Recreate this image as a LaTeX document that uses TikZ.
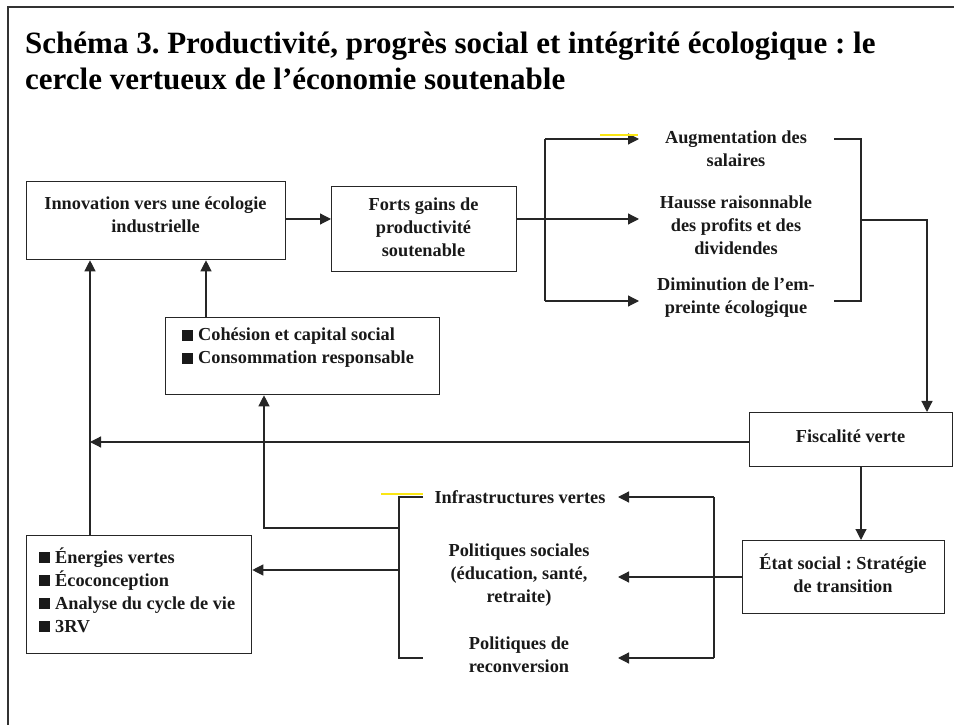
\documentclass[tikz,border=0pt]{standalone}
\usepackage{fontspec}
\setmainfont{Liberation Serif}
\usetikzlibrary{arrows.meta}
\frenchspacing
\newcommand{\sqb}{\rule{11pt}{11pt}\hspace{5pt}}
\tikzset{
  box/.style={draw=black!85, line width=1.3pt, inner sep=0pt, anchor=north west},
  txt/.style={font=\bfseries\fontsize{18.3}{23}\selectfont, align=center, inner sep=0pt, text=black!90},
  ltxt/.style={font=\bfseries\fontsize{18.3}{23}\selectfont, align=left, inner sep=0pt, text=black!90},
  conn/.style={draw=black!85, line width=1.2pt},
  arr/.style={conn, -{Triangle[length=11pt,width=11pt]}},
  hl/.style={draw={rgb,255:red,250;green,230;blue,20}, line width=2pt}
}
\begin{document}
\begin{tikzpicture}[x=1pt,y=-1pt]
\useasboundingbox (0,0) rectangle (954,727);
% frame
\draw[line width=1.6pt, black!80] (954,7) -- (8,7) -- (8,725);
% title
\node[anchor=base west, inner sep=0pt, align=left, font=\bfseries\fontsize{31}{36}\selectfont] (title) at (25,90)
  {Schéma 3. Productivité, progrès social et intégrité écologique : le\\cercle vertueux de l’économie soutenable};

% boxes
\node[box, minimum width=259pt, minimum height=78pt] (innov) at (26,181) {};
\node[txt] (innovT) at (155.5,215) {Innovation vers une écologie\\industrielle};
\node[box, minimum width=185pt, minimum height=85pt] (forts) at (331,186) {};
\node[txt] (fortsT) at (423.5,227) {Forts gains de\\productivité\\soutenable};
\node[box, minimum width=274pt, minimum height=77pt] (cohes) at (165,317) {};
\node[ltxt, anchor=west] (cohesT) at (182,348) {\sqb Cohésion et capital social\\\sqb Consommation responsable};
\node[box, minimum width=203pt, minimum height=54pt] (fisc) at (749,412) {};
\node[txt] (fiscT) at (850.5,436) {Fiscalité verte};
\node[box, minimum width=202pt, minimum height=73pt] (etat) at (742,540) {};
\node[txt] (etatT) at (843,573) {État social : Stratégie\\de transition};
\node[box, minimum width=225pt, minimum height=118pt] (energ) at (26,535) {};
\node[ltxt, anchor=west] (energT) at (39,590) {\sqb Énergies vertes\\\sqb Écoconception\\\sqb Analyse du cycle de vie\\\sqb 3RV};

% free texts
\node[txt] (aug) at (736,149) {Augmentation des\\salaires};
\node[txt] (hausse) at (736,225) {Hausse raisonnable\\des profits et des\\dividendes};
\node[txt] (dimin) at (736,298) {Diminution de l’em-\\preinte écologique};
\node[txt] (infra) at (520,497) {Infrastructures vertes};
\node[txt] (polsoc) at (519,575) {Politiques sociales\\(éducation, santé,\\retraite)};
\node[txt] (polrec) at (519,655) {Politiques de\\reconversion};

% coordinates
\coordinate (bA) at (545,139);
\coordinate (bB) at (545,301);
\coordinate (tA) at (639,139);
\coordinate (tH) at (639,219);
\coordinate (tD) at (639,301);
\coordinate (rA) at (834,139);
\coordinate (rAc) at (861,139);
\coordinate (rD) at (834,301);
\coordinate (rDc) at (861,301);
\coordinate (rM) at (861,220);
\coordinate (rC) at (927,220);
\coordinate (vL) at (90,442);
\coordinate (sA) at (714,497);
\coordinate (sB) at (714,658);
\coordinate (pI) at (618,497);
\coordinate (pS) at (618,577);
\coordinate (pR) at (618,658);
\coordinate (lA) at (423,497);
\coordinate (lAc) at (399,497);
\coordinate (lB) at (423,658);
\coordinate (lBc) at (399,658);
\coordinate (lC) at (399,528);
\coordinate (lD) at (399,570);
\coordinate (cC) at (264,528);

% connectors
\draw[arr] (innov.east |- 0,219) -- (forts.west |- 0,219);
\draw[arr] (forts.east |- 0,219) -- (tH);
\draw[conn] (bA) -- (bB);
\draw[arr] (bA) -- (tA);
\draw[arr] (bB) -- (tD);
\draw[conn] (rA) -- (rAc) -- (rDc) -- (rD);
\draw[arr] (rM) -- (rC) -- (rC |- fisc.north);
\draw[arr] (fisc.west |- vL) -- (vL);
\draw[arr] (energ.north -| 90,0) -- (innov.south -| 90,0);
\draw[arr] (cohes.north -| 206,0) -- (innov.south -| 206,0);
\draw[arr] (fisc.south -| 861,0) -- (etat.north -| 861,0);
\draw[arr] (etat.west |- pS) -- (pS);
\draw[conn] (sA) -- (sB);
\draw[arr] (sA) -- (pI);
\draw[arr] (sB) -- (pR);
\draw[conn] (lA) -- (lAc) -- (lBc) -- (lB);
\draw[arr] (lC) -- (cC) -- (cC |- cohes.south);
\draw[arr] (lD) -- (energ.east |- lD);
% yellow marks
\draw[hl] (600,135) -- (638,135);
\draw[hl] (381,494) -- (423,494);
\end{tikzpicture}
\end{document}
